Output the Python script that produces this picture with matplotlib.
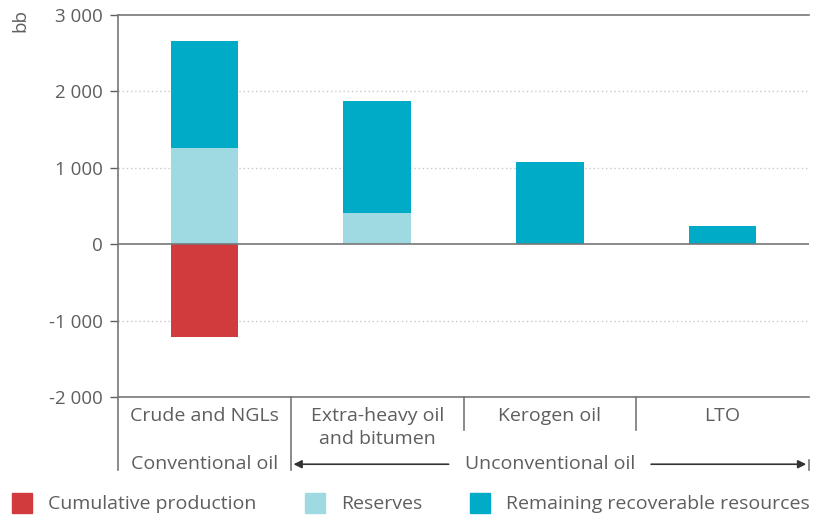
import matplotlib.pyplot as plt
import matplotlib.transforms as mtransforms
import numpy as np

categories = ["Crude and NGLs", "Extra-heavy oil\nand bitumen", "Kerogen oil", "LTO"]
cumulative_production = [-1215, 0, 0, 0]
reserves = [1255, 405, 0, 0]
remaining = [1410, 1465, 1070, 235]
series_labels = ["Cumulative production", "Reserves", "Remaining recoverable resources"]
colors = ["#d23b3e", "#9fdae3", "#00abc7"]

plt.rcParams['font.family'] = ['Open Sans', 'DejaVu Sans']
grey = "#5e5e5e"
fs = 14

fig = plt.figure(figsize=(8.13, 5.2), dpi=100)
ax = fig.add_axes([118 / 813, 1 - 397 / 520, 691 / 813, 382 / 520])

x = np.arange(len(categories)) + 0.5
width = 0.39
ax.bar(x, cumulative_production, width, color=colors[0], zorder=3)
ax.bar(x, reserves, width, color=colors[1], zorder=3)
ax.bar(x, remaining, width, bottom=reserves, color=colors[2], zorder=3)

ax.set_xlim(0, 4)
ax.set_ylim(-2000, 3000)
ticks = [-2000, -1000, 0, 1000, 2000, 3000]
ax.set_yticks(ticks)
ax.set_yticklabels([f"{t:,}".replace(",", " ") for t in ticks], fontsize=13.5, color=grey)
ax.set_xticks([])
ax.tick_params(axis='y', length=6, width=1, color=grey, pad=5)

for t in [-1000, 1000, 2000]:
    ax.axhline(t, color="#c8c8c8", linestyle=(0, (1, 2)), linewidth=1, zorder=1)
ax.axhline(0, color="#777777", linewidth=1.2, zorder=4)

for side in ["left", "top", "bottom"]:
    ax.spines[side].set_color("#777777")
    ax.spines[side].set_linewidth(1.2)
ax.spines["right"].set_visible(False)

ax.text(-0.142, 1.015, "bb", transform=ax.transAxes, rotation=90, fontsize=13.5,
        color=grey, ha="center", va="top")

# category table below the axis
trans = mtransforms.blended_transform_factory(ax.transData, ax.transAxes)
line_kw = dict(color="#777777", linewidth=1.2, clip_on=False, transform=trans)
ax.plot([0, 0], [0, -0.191], **line_kw)
ax.plot([1, 1], [0, -0.191], **line_kw)
ax.plot([2, 2], [0, -0.086], **line_kw)
ax.plot([3, 3], [0, -0.086], **line_kw)
ax.plot([4, 4], [-0.165, -0.191], **line_kw)

for xi, name in zip(x, categories):
    ax.text(xi, -0.026, name, transform=trans, ha="center", va="top",
            fontsize=fs, color=grey, linespacing=1.35)

ax.text(0.5, -0.176, "Conventional oil", transform=trans, ha="center",
        va="center", fontsize=fs, color=grey)
ax.text(2.5, -0.176, "Unconventional oil", transform=trans, ha="center",
        va="center", fontsize=fs, color=grey)
arrow_kw = dict(arrowstyle="-|>", color="#333333", lw=1.2, mutation_scale=12)
ax.annotate("", xy=(1.0, -0.176), xytext=(1.93, -0.176), xycoords=trans,
            textcoords=trans, arrowprops=arrow_kw, annotation_clip=False)
ax.annotate("", xy=(4.0, -0.176), xytext=(3.07, -0.176), xycoords=trans,
            textcoords=trans, arrowprops=arrow_kw, annotation_clip=False)

# legend
legend_x = [12, 305, 470]
for lx, label, c in zip(legend_x, series_labels, colors):
    fig.patches.append(plt.Rectangle((lx / 813, 1 - 513 / 520), 20 / 813, 20 / 520,
                                     color=c, transform=fig.transFigure))
    fig.text((lx + 36) / 813, 1 - 504 / 520, label, fontsize=fs, color=grey, va="center")

fig.savefig("out.png", dpi=100)
